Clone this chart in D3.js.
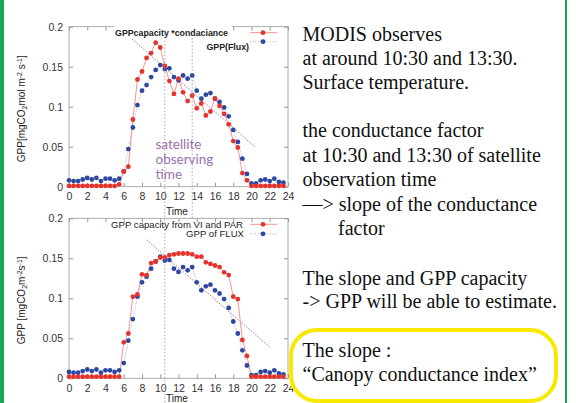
<!DOCTYPE html>
<html><head><meta charset="utf-8">
<script src="https://cdn.jsdelivr.net/npm/d3@7"></script>
<style>
html,body{margin:0;padding:0;background:#fff;}
svg{display:block;}
</style></head>
<body>
<svg id="c" width="576" height="403"></svg>
<script>
// ---- data ----
const hours = d3.range(0, 24, 0.5);
const topCapacityCond = [0.001,0.001,0.001,0.001,0.001,0.001,0.001,0.001,0.001,0.001,0.001,0.003,
  0.019,0.025,0.084,0.134,0.144,0.161,0.167,0.180,0.174,0.151,0.132,0.116,
  0.135,0.118,0.107,0.114,0.098,0.104,0.089,0.094,0.110,0.101,0.091,0.078,
  0.057,0.049,0.017,0.008,0.001,0.001,0.001,0.001,0.001,0.001,0.001,0.001];
const fluxGPP = [0.008,0.007,0.007,0.009,0.011,0.009,0.011,0.007,0.010,0.010,0.008,0.010,
  0.019,0.047,0.074,0.102,0.120,0.127,0.137,0.146,0.152,0.147,0.148,0.137,
  0.133,0.139,0.135,0.139,0.120,0.110,0.115,0.117,0.110,0.106,0.099,0.088,
  0.071,0.056,0.035,0.016,0.004,0.004,0.008,0.009,0.007,0.010,0.006,0.005];
const botCapacity = [0.002,0.002,0.002,0.002,0.002,0.002,0.002,0.002,0.002,0.002,0.002,0.002,
  0.045,0.056,0.102,0.105,0.130,0.129,0.144,0.146,0.151,0.151,0.154,0.155,
  0.156,0.156,0.156,0.155,0.152,0.152,0.145,0.143,0.141,0.139,0.1325,0.129,
  0.102,0.099,0.048,0.028,0.002,0.002,0.002,0.002,0.002,0.002,0.002,0.002];
const topSlope = [[6.67,0.187],[20.35,0.050]];
const botSlope = [[8.5,0.173],[22.0,0.039]];
const obsTimes = [10.5, 13.5];
const xTicks = d3.range(0, 25, 2);
const yTicks = [0, 0.05, 0.1, 0.15, 0.2];
const yTickLabels = ["0","0.05","0.1","0.15","0.2"];
const textLines = [
  "MODIS observes",
  "at around 10:30 and 13:30.",
  "Surface temperature.",
  "",
  "the conductance factor",
  "at 10:30 and 13:30 of satellite",
  "observation time",
  "\u2014> slope of the conductance",
  "      factor",
  "",
  "The slope and GPP capacity",
  "-> GPP will be able to estimate.",
  "",
  "The slope :",
  "\u201CCanopy conductance index\u201D"
];

const svg = d3.select("#c");
const RED = "#e5322b", BLUE = "#2d48a3", FRAME = "#9a9a9a";
const x = d3.scaleLinear().domain([0, 24]).range([69, 288]);

svg.append("rect").attr("x", 0).attr("y", 0).attr("width", 4).attr("height", 403).attr("fill", "#19a84f");
svg.append("rect").attr("x", 565).attr("y", 0).attr("width", 2).attr("height", 403).attr("fill", "#19a84f");

function panel(y, capacity, slope, leg1, leg2, legBold, ytitle, timeDy) {
  const g = svg.append("g");
  g.append("rect").attr("x", x(0)).attr("y", y(0.2)).attr("width", x(24) - x(0)).attr("height", y(0) - y(0.2))
    .attr("fill", "none").attr("stroke", FRAME).attr("stroke-width", 0.8);
  const fmt = (d) => yTickLabels[yTicks.indexOf(d)];
  const ax = g.append("g").attr("transform", `translate(0,${y(0)})`)
    .call(d3.axisBottom(x).tickValues(xTicks).tickSizeInner(-4).tickSizeOuter(0).tickPadding(6));
  const ay = g.append("g").attr("transform", `translate(${x(0)},0)`)
    .call(d3.axisLeft(y).tickValues(yTicks).tickFormat(fmt).tickSizeInner(-4).tickSizeOuter(0).tickPadding(6));
  const axT = g.append("g").attr("transform", `translate(0,${y(0.2)})`)
    .call(d3.axisTop(x).tickValues(xTicks).tickSizeInner(-4).tickSizeOuter(0).tickFormat(""));
  const ayR = g.append("g").attr("transform", `translate(${x(24)},0)`)
    .call(d3.axisRight(y).tickValues(yTicks).tickSizeInner(-4).tickSizeOuter(0).tickFormat(""));
  [ax, ay, axT, ayR].forEach(a => {
    a.select(".domain").remove();
    a.selectAll("line").attr("stroke", FRAME);
    a.selectAll("text").attr("font-family", "Liberation Sans, Arial, sans-serif").attr("font-size", 10.5).attr("fill", "#333");
  });
  g.append("line").attr("x1", x(slope[0][0])).attr("y1", y(slope[0][1]))
    .attr("x2", x(slope[1][0])).attr("y2", y(slope[1][1]))
    .attr("stroke", "#9a6fb0").attr("stroke-width", 1).attr("stroke-dasharray", "1.5,1.5");
  const line = d3.line().x((d, i) => x(hours[i])).y(d => y(d));
  g.append("path").datum(fluxGPP).attr("d", line).attr("fill", "none")
    .attr("stroke", "#8fa0d8").attr("stroke-width", 0.8).attr("stroke-dasharray", "1,1.5");
  g.append("path").datum(capacity).attr("d", line).attr("fill", "none")
    .attr("stroke", "#f27a6e").attr("stroke-width", 0.8);
  g.selectAll(".b").data(fluxGPP).enter().append("circle")
    .attr("cx", (d, i) => x(hours[i])).attr("cy", d => y(d)).attr("r", 2.4).attr("fill", BLUE);
  g.selectAll(".r").data(capacity).enter().append("circle")
    .attr("cx", (d, i) => x(hours[i])).attr("cy", d => y(d)).attr("r", 2.4).attr("fill", RED);
  const ly1 = y(0.2) + 6, ly2 = y(0.2) + (legBold ? 20 : 15.5);
  const lx = legBold ? 228 : 243;
  if (legBold) {
    g.append("rect").attr("x", 114).attr("y", ly1 - 7).attr("width", 118).attr("height", 13).attr("fill", "#fff");
  }
  const fs = legBold ? 8.8 : 9.6;
  g.append("text").attr("x", lx).attr("y", ly1 + 3.3).attr("text-anchor", "end")
    .attr("font-family", "Liberation Sans, Arial, sans-serif").attr("font-size", fs)
    .attr("font-weight", legBold ? "bold" : "normal").attr("fill", "#222").text(leg1);
  g.append("text").attr("x", legBold ? 249 : 244).attr("y", ly2 + 3.3).attr("text-anchor", "end")
    .attr("font-family", "Liberation Sans, Arial, sans-serif").attr("font-size", fs)
    .attr("font-weight", legBold ? "bold" : "normal").attr("fill", "#222").text(leg2);
  g.append("line").attr("x1", 250).attr("x2", 277).attr("y1", ly1).attr("y2", ly1).attr("stroke", "#f27a6e").attr("stroke-width", 0.8);
  g.append("circle").attr("cx", 263).attr("cy", ly1).attr("r", 2.4).attr("fill", RED);
  const by = ly2 - (legBold ? 5 : 0);
  g.append("line").attr("x1", 250).attr("x2", 277).attr("y1", by).attr("y2", by)
    .attr("stroke", "#8fa0d8").attr("stroke-width", 0.8).attr("stroke-dasharray", "1,1.5");
  g.append("circle").attr("cx", 263).attr("cy", by).attr("r", 2.4).attr("fill", BLUE);
  const yt = g.append("text").attr("transform", `translate(25,${(y(0) + y(0.2)) / 2 + 2}) rotate(-90)`)
    .attr("text-anchor", "middle").attr("font-family", "Liberation Sans, Arial, sans-serif")
    .attr("font-size", 10).attr("fill", "#222");
  ytitle.forEach(p => {
    const t = yt.append("tspan").text(p[0]);
    if (p[1] === "sub") t.attr("baseline-shift", "-25%").attr("font-size", 7);
    if (p[1] === "sup") t.attr("baseline-shift", "40%").attr("font-size", 7);
  });
  g.append("text").attr("x", 177).attr("y", y(0) + timeDy).attr("text-anchor", "middle")
    .attr("font-family", "Liberation Sans, Arial, sans-serif").attr("font-size", 10).attr("fill", "#222").text("Time");
}

const yTop = d3.scaleLinear().domain([0, 0.2]).range([186.7, 26.7]);
const yBot = d3.scaleLinear().domain([0, 0.2]).range([378.3, 218.3]);

panel(yTop, topCapacityCond, topSlope, "GPPcapacity *condaciance", "GPP(Flux)", true,
  [["GPP[mgCO"], ["2", "sub"], ["mol m"], ["-2", "sup"], [" s"], ["-1", "sup"], ["]"]], 28);
panel(yBot, botCapacity, botSlope, "GPP capacity from VI and PAR", "GPP of FLUX", false,
  [["GPP [mgCO"], ["2", "sub"], ["m"], ["-2", "sup"], ["s"], ["-1", "sup"], ["]"]], 24);

svg.append("line").attr("x1", x(obsTimes[0])).attr("x2", x(obsTimes[0])).attr("y1", 30).attr("y2", 403)
  .attr("stroke", "#9a8aa0").attr("stroke-width", 0.8).attr("stroke-dasharray", "1.5,2");
svg.append("line").attr("x1", x(obsTimes[1])).attr("x2", x(obsTimes[1])).attr("y1", 38).attr("y2", 218)
  .attr("stroke", "#9a8aa0").attr("stroke-width", 0.8).attr("stroke-dasharray", "1.5,2");

["satellite", "observing", "time"].forEach((t, i) => {
  svg.append("text").attr("x", 155.5).attr("y", 148.5 + i * 15).attr("font-family", "Lato, Open Sans, sans-serif")
    .attr("font-size", 13.5).attr("fill", "#9a6fb0").text(t);
});

const baseY = [40.7, 65, 89.3, null, 137.3, 161.7, 186, 210.7, 235, null, 285, 308.3, null, 356.7, 380.7];
textLines.forEach((t, i) => {
  if (!t) return;
  const indent = t.startsWith("      ");
  svg.append("text").attr("x", indent ? 338 : 302.5).attr("y", baseY[i])
    .attr("font-family", "Liberation Serif, Times New Roman, serif").attr("font-size", 20).attr("fill", "#111")
    .text(t.trim());
});

svg.append("rect").attr("x", 291).attr("y", 330).attr("width", 265).attr("height", 71).attr("rx", 26).attr("ry", 26)
  .attr("fill", "none").attr("stroke", "#f7ea00").attr("stroke-width", 4);
</script>
</body></html>
